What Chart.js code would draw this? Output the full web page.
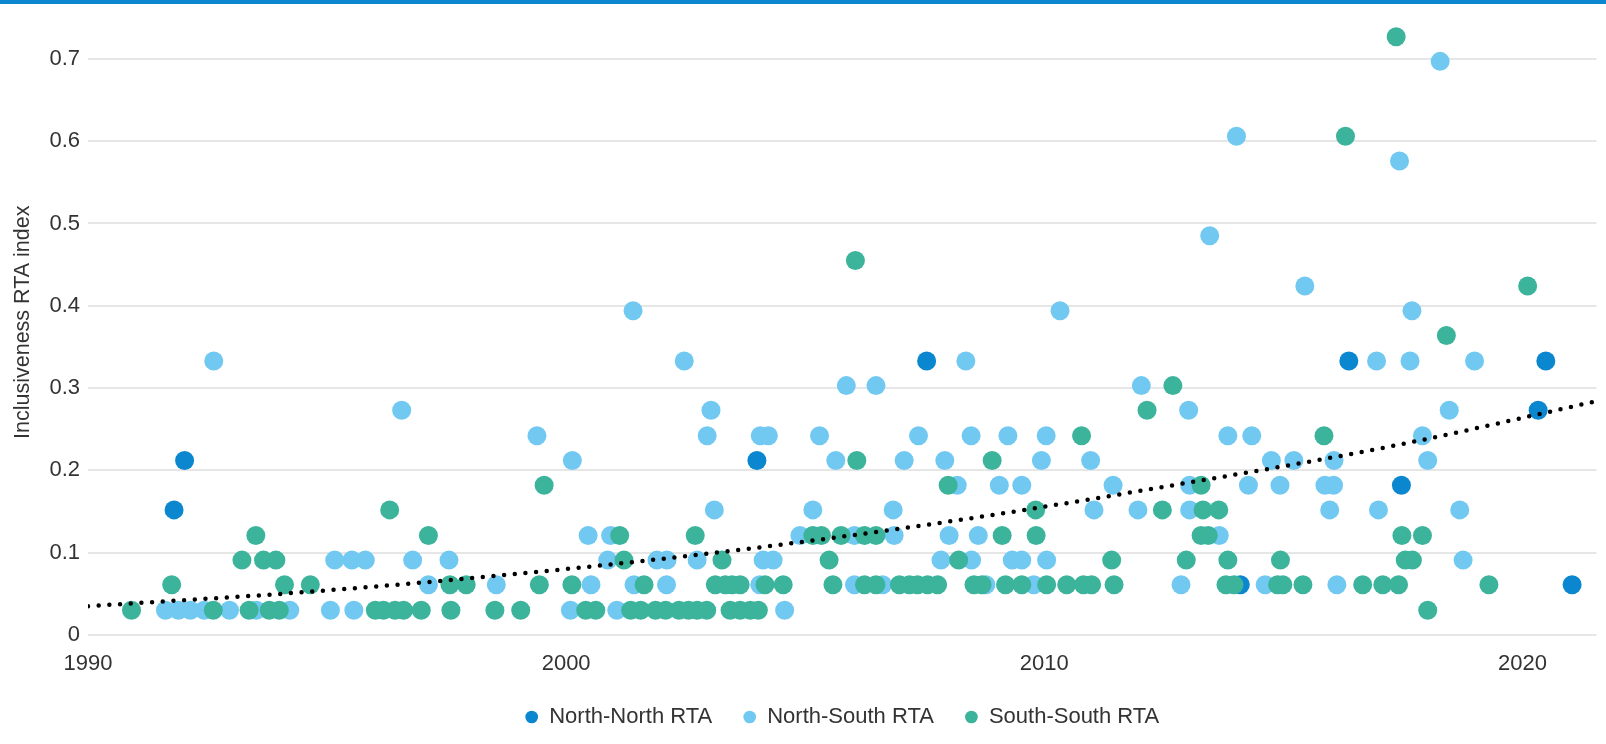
<!DOCTYPE html>
<html>
<head>
<meta charset="utf-8">
<script src="https://cdn.jsdelivr.net/npm/chart.js@4.4.1/dist/chart.umd.min.js"></script>
<style>
  body { margin: 0; background: #fff; }
  #wrap { position: relative; width: 1606px; height: 744px; }
  #topbar { position: absolute; left: 0; top: 0; width: 1606px; height: 4px; background: #0a87cf; }
</style>
</head>
<body>
<div id="wrap">
  <canvas id="rtaChart" width="1606" height="744"></canvas>
  <div id="topbar"></div>
</div>
<script>
// [year, index] pairs
const northNorth = [
  [1991.80, 0.152], [1992.02, 0.212], [2003.99, 0.212], [2007.54, 0.333], [2014.10, 0.061],
  [2016.37, 0.333], [2017.47, 0.182], [2020.33, 0.273], [2020.49, 0.333], [2021.04, 0.061]
];

const northSouth = [
  // 0.03
  [1991.62, 0.030], [1991.89, 0.030], [1992.14, 0.030], [1992.43, 0.030], [1992.96, 0.030],
  [1993.52, 0.030], [1994.22, 0.030], [1995.07, 0.030], [1995.56, 0.030], [2000.09, 0.030],
  [2001.06, 0.030], [2004.57, 0.030],
  // 0.06
  [1997.12, 0.061], [1998.54, 0.061], [2000.52, 0.061], [2001.42, 0.061], [2002.10, 0.061],
  [2004.05, 0.061], [2006.03, 0.061], [2006.62, 0.061], [2008.78, 0.061], [2009.78, 0.061],
  [2012.86, 0.061], [2014.62, 0.061], [2016.12, 0.061],
  // 0.09
  [1995.16, 0.091], [1995.52, 0.091], [1995.80, 0.091], [1996.79, 0.091], [1997.55, 0.091],
  [2000.87, 0.091], [2001.90, 0.091], [2002.11, 0.091], [2002.74, 0.091], [2004.12, 0.091],
  [2004.33, 0.091], [2007.84, 0.091], [2008.48, 0.091], [2009.33, 0.091], [2009.53, 0.091],
  [2010.05, 0.091], [2018.76, 0.091],
  // 0.12
  [2000.46, 0.121], [2000.93, 0.121], [2004.89, 0.121], [2006.03, 0.121], [2006.86, 0.121],
  [2008.01, 0.121], [2008.62, 0.121], [2013.66, 0.121],
  // 0.15
  [2003.10, 0.152], [2005.16, 0.152], [2006.84, 0.152], [2011.04, 0.152], [2011.96, 0.152],
  [2013.04, 0.152], [2015.97, 0.152], [2016.99, 0.152], [2018.69, 0.152],
  // 0.18
  [2008.18, 0.182], [2009.06, 0.182], [2009.53, 0.182], [2011.44, 0.182], [2013.04, 0.182],
  [2014.27, 0.182], [2014.93, 0.182], [2015.87, 0.182], [2016.05, 0.182],
  // 0.21
  [2000.13, 0.212], [2005.64, 0.212], [2007.07, 0.212], [2007.92, 0.212], [2009.94, 0.212],
  [2010.97, 0.212], [2014.75, 0.212], [2015.22, 0.212], [2016.06, 0.212], [2018.02, 0.212],
  // 0.24
  [1999.39, 0.242], [2002.95, 0.242], [2004.06, 0.242], [2004.23, 0.242], [2005.30, 0.242],
  [2007.37, 0.242], [2008.47, 0.242], [2009.24, 0.242], [2010.04, 0.242], [2013.84, 0.242],
  [2014.34, 0.242], [2017.91, 0.242],
  // higher
  [1996.56, 0.273], [2003.03, 0.273], [2013.02, 0.273], [2018.47, 0.273],
  [2005.86, 0.303], [2006.48, 0.303], [2012.03, 0.303],
  [1992.63, 0.333], [2002.47, 0.333], [2008.36, 0.333], [2016.95, 0.333], [2017.65, 0.333], [2019.00, 0.333],
  [2001.40, 0.394], [2010.33, 0.394], [2017.69, 0.394],
  [2015.45, 0.424], [2013.46, 0.485], [2017.43, 0.576], [2014.02, 0.606], [2018.28, 0.697]
];

const southSouth = [
  // 0.03
  [1990.91, 0.030], [1992.62, 0.030], [1993.37, 0.030], [1993.79, 0.030], [1994.00, 0.030],
  [1996.01, 0.030], [1996.18, 0.030], [1996.42, 0.030], [1996.60, 0.030], [1996.97, 0.030],
  [1997.59, 0.030], [1998.51, 0.030], [1999.05, 0.030], [2000.41, 0.030], [2000.62, 0.030],
  [2001.35, 0.030], [2001.56, 0.030], [2001.87, 0.030], [2002.08, 0.030], [2002.36, 0.030],
  [2002.56, 0.030], [2002.74, 0.030], [2002.94, 0.030], [2003.43, 0.030], [2003.64, 0.030],
  [2003.85, 0.030], [2004.02, 0.030], [2018.02, 0.030],
  // 0.06
  [1991.75, 0.061], [1994.11, 0.061], [1994.65, 0.061], [1997.57, 0.061], [1997.91, 0.061],
  [1999.44, 0.061], [2000.12, 0.061], [2001.63, 0.061], [2003.12, 0.061], [2003.33, 0.061],
  [2003.47, 0.061], [2003.64, 0.061], [2004.16, 0.061], [2004.54, 0.061], [2005.58, 0.061],
  [2006.24, 0.061], [2006.48, 0.061], [2006.97, 0.061], [2007.18, 0.061], [2007.35, 0.061],
  [2007.56, 0.061], [2007.77, 0.061], [2008.53, 0.061], [2008.70, 0.061], [2009.19, 0.061],
  [2009.53, 0.061], [2010.05, 0.061], [2010.47, 0.061], [2010.82, 0.061], [2010.99, 0.061],
  [2011.46, 0.061], [2013.80, 0.061], [2013.97, 0.061], [2014.88, 0.061], [2014.99, 0.061],
  [2015.41, 0.061], [2016.66, 0.061], [2017.08, 0.061], [2017.41, 0.061], [2019.30, 0.061],
  // 0.09
  [1993.22, 0.091], [1993.67, 0.091], [1993.93, 0.091], [2001.21, 0.091], [2003.26, 0.091],
  [2005.50, 0.091], [2008.21, 0.091], [2011.41, 0.091], [2012.97, 0.091], [2013.84, 0.091],
  [2014.94, 0.091], [2017.55, 0.091], [2017.70, 0.091],
  // 0.12
  [1993.51, 0.121], [1997.12, 0.121], [2001.12, 0.121], [2002.70, 0.121], [2005.16, 0.121],
  [2005.34, 0.121], [2005.75, 0.121], [2006.24, 0.121], [2006.48, 0.121], [2009.12, 0.121],
  [2009.83, 0.121], [2013.28, 0.121], [2013.43, 0.121], [2017.48, 0.121], [2017.91, 0.121],
  // higher
  [1996.31, 0.152], [2009.82, 0.152], [2012.47, 0.152], [2013.32, 0.152], [2013.65, 0.152],
  [1999.54, 0.182], [2007.99, 0.182], [2013.28, 0.182],
  [2006.08, 0.212], [2008.91, 0.212],
  [2010.78, 0.242], [2015.85, 0.242],
  [2012.15, 0.273], [2012.69, 0.303], [2018.41, 0.364], [2020.11, 0.424],
  [2006.05, 0.455], [2016.30, 0.606], [2017.36, 0.727]
];

// dotted trend line, read at a few points along its length
const trendYears = [1990, 1994.5, 1999.1, 2003.7, 2008.25, 2012.8, 2017.4, 2021.55];
const trendValues = [0.035, 0.052, 0.075, 0.104, 0.140, 0.183, 0.231, 0.284];

const seriesNames = ["North-North RTA", "North-South RTA", "South-South RTA"];
const seriesColors = ["#0a87cf", "#71c9f2", "#3cb49b"];

const toPoints = (pairs) => pairs.map((p) => ({ x: p[0], y: p[1] }));
const textColor = "#333";

Chart.defaults.font.family = '"Liberation Sans", Arial, sans-serif';

const ctx = document.getElementById("rtaChart").getContext("2d");
const dotStyle = (i) => ({
  label: seriesNames[i],
  backgroundColor: seriesColors[i],
  borderColor: seriesColors[i],
  borderWidth: 0,
  pointRadius: 9.5,
  pointHoverRadius: 9.5,
});

new Chart(ctx, {
  type: "scatter",
  data: {
    datasets: [
      { ...dotStyle(0), data: toPoints(northNorth), order: 3 },
      { ...dotStyle(1), data: toPoints(northSouth), order: 2 },
      { ...dotStyle(2), data: toPoints(southSouth), order: 1 },
      {
        label: "trend",
        data: trendYears.map((x, i) => ({ x: x, y: trendValues[i] })),
        showLine: true,
        borderColor: "#000",
        borderWidth: 4.5,
        borderDash: [0, 10.7],
        borderCapStyle: "round",
        pointRadius: 0,
        pointHoverRadius: 0,
        cubicInterpolationMode: "monotone",
        fill: false,
        order: 0,
      },
    ],
  },
  options: {
    responsive: false,
    animation: false,
    events: [],
    layout: { padding: { top: 6, right: 2, bottom: 6, left: 0 } },
    plugins: {
      tooltip: { enabled: false },
      legend: {
        position: "bottom",
        fullSize: false,
        labels: {
          filter: (item) => item.datasetIndex < 3,
          sort: (a, b) => a.datasetIndex - b.datasetIndex,
          usePointStyle: true,
          pointStyle: "circle",
          boxWidth: 13,
          boxHeight: 9,
          padding: 31,
          color: textColor,
          font: { size: 22 },
        },
      },
    },
    scales: {
      x: {
        type: "linear",
        min: 1990,
        max: 2021.55,
        grid: { display: false },
        border: { display: false },
        ticks: {
          stepSize: 10,
          includeBounds: false,
          padding: 10,
          color: textColor,
          font: { size: 22, lineHeight: 1 },
          callback: (v) => String(v),
        },
        afterFit: (s) => {
          s.height = 40;
          s.paddingLeft = 0;
          s.paddingRight = 0;
        },
      },
      y: {
        min: 0,
        max: 0.76,
        grid: { color: "#e6e6e6", lineWidth: 2, drawTicks: false },
        border: { display: false },
        ticks: {
          stepSize: 0.1,
          includeBounds: false,
          padding: 8,
          color: textColor,
          font: { size: 22 },
        },
        title: {
          display: true,
          text: "Inclusiveness RTA index",
          color: textColor,
          font: { size: 21.5 },
          padding: { top: 10, bottom: 0 },
        },
        afterFit: (s) => {
          s.width = 88;
          s.paddingTop = 0;
          s.paddingBottom = 0;
        },
      },
    },
  },
});
</script>
</body>
</html>
